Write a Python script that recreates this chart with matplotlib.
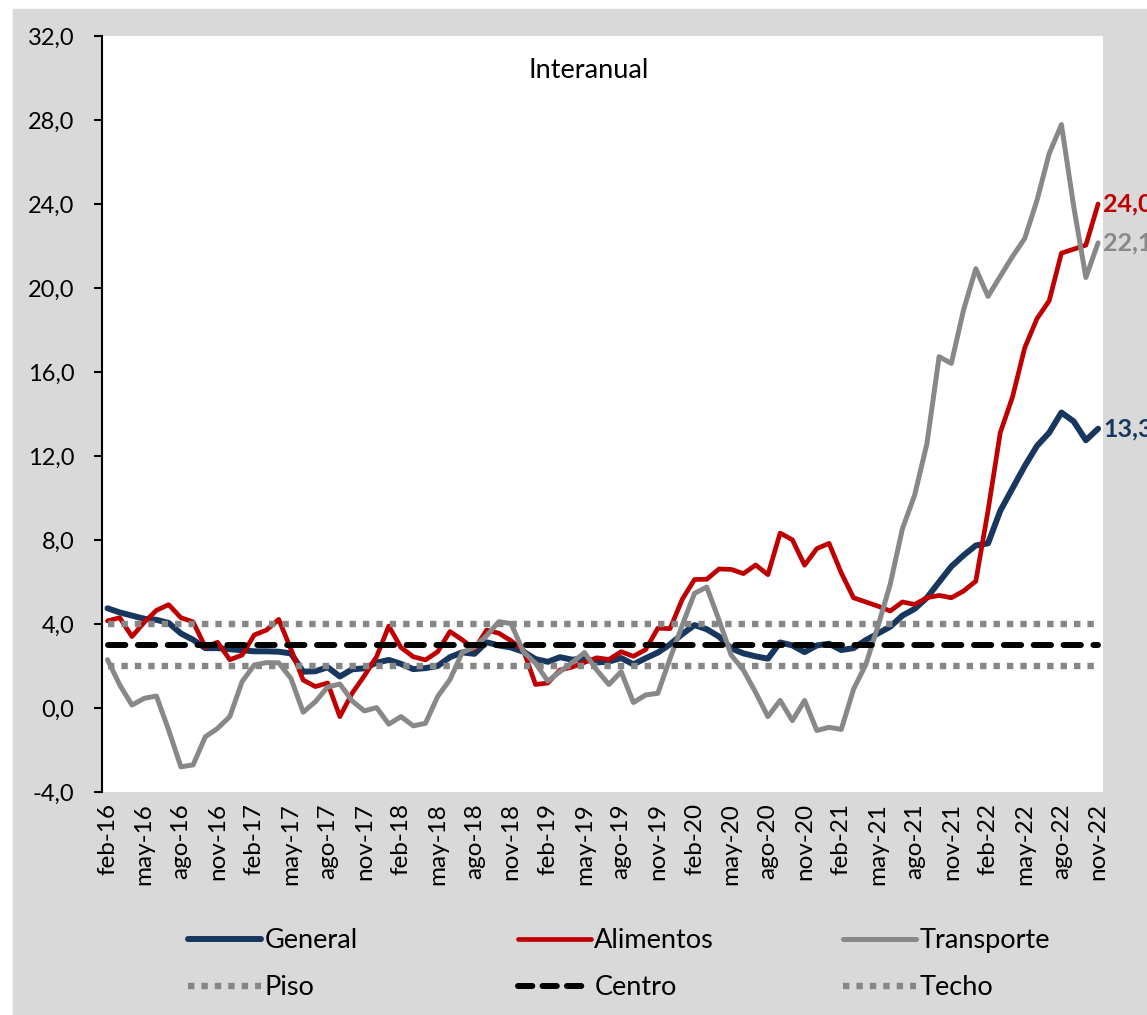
import matplotlib
matplotlib.use("Agg")
import matplotlib.pyplot as plt
from matplotlib.patches import Rectangle
from matplotlib.lines import Line2D
from matplotlib.ticker import FuncFormatter

plt.rcParams['font.family'] = ['Lato', 'DejaVu Sans']

# monthly series, feb-16 .. nov-22
month_names = ['ene', 'feb', 'mar', 'abr', 'may', 'jun',
               'jul', 'ago', 'sep', 'oct', 'nov', 'dic']
start_year, start_month, n_months = 2016, 2, 82

general = [4.75, 4.55, 4.4, 4.25, 4.2, 4.05, 3.55, 3.25, 2.85, 2.85,
           2.8, 2.75, 2.7, 2.7, 2.68, 2.6, 1.73, 1.75, 1.94, 1.5,
           1.84, 1.89, 2.16, 2.29, 2.1, 1.85, 1.9, 2.0, 2.42, 2.65,
           2.58, 3.13, 2.98, 2.88, 2.68, 2.33, 2.2, 2.42, 2.3, 2.36,
           2.17, 2.21, 2.38, 2.08, 2.37, 2.64, 3.03, 3.52, 3.95, 3.75,
           3.4, 2.84, 2.6, 2.46, 2.35, 3.12, 2.98, 2.66, 2.98, 3.06,
           2.76, 2.85, 3.23, 3.55, 3.87, 4.4, 4.72, 5.25, 6.0, 6.74,
           7.27, 7.74, 7.84, 9.39, 10.46, 11.52, 12.48, 13.11, 14.07, 13.65,
           12.75, 13.3]
alimentos = [4.15, 4.3, 3.4, 4.08, 4.65, 4.92, 4.3, 4.1, 2.9, 3.13,
             2.3, 2.52, 3.48, 3.71, 4.22, 2.8, 1.33, 1.02, 1.19, -0.41,
             0.7, 1.53, 2.44, 3.9, 2.88, 2.44, 2.29, 2.68, 3.64, 3.25,
             2.8, 3.71, 3.56, 3.2, 2.76, 1.12, 1.19, 1.81, 1.95, 2.17,
             2.39, 2.31, 2.68, 2.46, 2.78, 3.8, 3.78, 5.18, 6.12, 6.13,
             6.62, 6.6, 6.4, 6.81, 6.35, 8.33, 8.01, 6.8, 7.59, 7.84,
             6.43, 5.25, 5.05, 4.85, 4.62, 5.05, 4.93, 5.25, 5.36, 5.25,
             5.57, 6.04, 9.4, 13.11, 14.81, 17.15, 18.54, 19.39, 21.66, 21.85,
             22.04, 24.0]
transporte = [2.3, 1.1, 0.14, 0.46, 0.57, -1.05, -2.8, -2.71, -1.37, -0.97,
              -0.41, 1.25, 2.05, 2.16, 2.15, 1.41, -0.2, 0.3, 1.0, 1.14,
              0.34, -0.14, 0.02, -0.77, -0.41, -0.85, -0.73, 0.55, 1.35, 2.64,
              2.9, 3.44, 4.11, 4.02, 2.68, 2.13, 1.28, 1.73, 2.17, 2.64,
              1.81, 1.12, 1.73, 0.26, 0.62, 0.7, 2.36, 3.95, 5.46, 5.76,
              4.19, 2.52, 1.8, 0.74, -0.41, 0.36, -0.6, 0.36, -1.07, -0.92,
              -1.02, 0.89, 2.06, 3.9, 5.89, 8.54, 10.14, 12.58, 16.73, 16.41,
              18.96, 20.92, 19.6, 20.56, 21.5, 22.36, 24.17, 26.4, 27.78, 23.9,
              20.5, 22.15]
piso, centro, techo = 2.0, 3.0, 4.0
y_ticks = [-4, 0, 4, 8, 12, 16, 20, 24, 28, 32]

# category labels
labels = []
for i in range(n_months):
    m = (start_month - 1 + i) % 12
    y = start_year + (start_month - 1 + i) // 12
    labels.append(f"{month_names[m]}-{y % 100:02d}")
x = list(range(n_months))

navy, red, grey = '#17375e', '#c00000', '#888888'

fig = plt.figure(figsize=(11.47, 10.15), dpi=100, facecolor='white')
fig.patches.append(Rectangle((13 / 1147, 0), 1, 1 - 9 / 1015,
                             transform=fig.transFigure, color='#d9d9d9', zorder=-5))
ax = fig.add_axes([102 / 1147, 1 - 792 / 1015, (1103 - 102) / 1147, (792 - 36) / 1015])
ax.set_facecolor('white')

ax.plot(x, general, color=navy, lw=4.3, solid_capstyle='round', solid_joinstyle='round')
ax.plot(x, alimentos, color=red, lw=3.4, solid_capstyle='round', solid_joinstyle='round')
ax.plot(x, transporte, color=grey, lw=3.6, solid_capstyle='round', solid_joinstyle='round')
dot = dict(color='#868686', lw=4.6, linestyle=(0, (1.0, 1.1)))
ax.plot(x, [piso] * n_months, **dot)
ax.plot(x, [centro] * n_months, color='black', lw=4.3, linestyle=(0, (2.9, 2.1)),
        dash_capstyle='round')
ax.plot(x, [techo] * n_months, **dot)

ax.set_xlim(-0.45, n_months - 0.6)
ax.set_ylim(-4, 32)
ax.set_yticks(y_ticks)
ax.yaxis.set_major_formatter(FuncFormatter(lambda v, p: f"{v:.1f}".replace('.', ',')))
ax.set_xticks(x[::3])
ax.set_xticklabels(labels[::3], rotation=90)
ax.tick_params(axis='x', length=0, pad=8, labelsize=17.5)
ax.tick_params(axis='y', direction='out', length=6, width=1.5, pad=14, labelsize=17)
for s in ['top', 'right', 'bottom']:
    ax.spines[s].set_visible(False)
ax.spines['left'].set_linewidth(1.5)

ax.text(0.486, 0.955, 'Interanual', transform=ax.transAxes, ha='center', va='center',
        fontsize=19.5)

# end labels
for vals, col in [(alimentos, red), (transporte, grey), (general, navy)]:
    ax.text(n_months - 1 + 0.4, vals[-1], f"{vals[-1]:.1f}".replace('.', ','),
            color=col, fontsize=18, fontweight='bold', ha='left', va='center',
            clip_on=False)

# legend, three columns of two entries each
cols = [
    [Line2D([], [], color=navy, lw=4.3, solid_capstyle='round'),
     Line2D([], [], **dot)],
    [Line2D([], [], color=red, lw=3.4, solid_capstyle='round'),
     Line2D([], [], color='black', lw=4.3, linestyle=(0, (2.4, 1.7)), dash_capstyle='round')],
    [Line2D([], [], color=grey, lw=3.6, solid_capstyle='round'),
     Line2D([], [], **dot)],
]
names = [['General', 'Piso'], ['Alimentos', 'Centro'], ['Transporte', 'Techo']]
for k, xpix in enumerate([188, 518, 843]):
    fig.legend(cols[k], names[k], loc='upper left',
               bbox_to_anchor=(xpix / 1147, 1 - 928 / 1015),
               frameon=False, fontsize=19.5, handlelength=2.7, handletextpad=0.12,
               labelspacing=0.82, borderpad=0, borderaxespad=0)

fig.savefig('out.png', dpi=100, facecolor=fig.get_facecolor())
